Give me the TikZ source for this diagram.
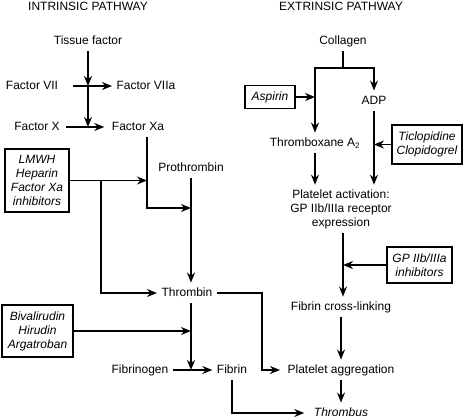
\documentclass[tikz,border=0pt]{standalone}
\usepackage{fontspec}
\setmainfont{Liberation Sans}
\usetikzlibrary{arrows.meta}

\begin{document}
\begin{tikzpicture}[x=1pt,y=-1pt,line width=1.4pt,
  lbl/.style={font=\fontsize{12}{14}\selectfont, text height=9pt, text depth=2.5pt, inner sep=4pt},
  multi/.style={font=\fontsize{12}{14}\selectfont, align=center, inner sep=4pt},
  drug/.style={draw, font=\fontsize{12}{14}\selectfont\itshape, align=center, inner sep=2pt},
  arr/.style={-{Stealth[length=10pt,width=8pt]}}]
  \useasboundingbox (0,0) rectangle (464,420);

  \node[lbl] (intr) at (88,7) {INTRINSIC PATHWAY};
  \node[lbl] (extr) at (341,7) {EXTRINSIC PATHWAY};

  \node[lbl] (tissue) at (88,41) {Tissue factor};
  \node[lbl] (f7) at (32,86) {Factor VII};
  \node[lbl] (f7a) at (146,86) {Factor VIIa};
  \node[lbl] (fx) at (37,127) {Factor X};
  \node[lbl] (fxa) at (138,127) {Factor Xa};
  \node[drug, minimum width=64pt, minimum height=63pt] (lmwh) at (37,180.5) {LMWH\\Heparin\\Factor Xa\\inhibitors};
  \node[lbl] (proth) at (191,168) {Prothrombin};
  \node[lbl] (thrombin) at (187,293) {Thrombin};
  \node[drug, minimum width=71pt, minimum height=52pt] (bival) at (37.5,331) {Bivalirudin\\Hirudin\\Argatroban};
  \node[lbl] (fibrinogen) at (140,370) {Fibrinogen};
  \node[lbl] (fibrin) at (232,370) {Fibrin};

  \node[lbl] (collagen) at (343,41) {Collagen};
  \node[drug, minimum width=50pt, minimum height=23pt] (aspirin) at (270,97) {Aspirin};
  \node[lbl] (adp) at (374,101) {ADP};
  \node[lbl] (txa) at (315,143) {Thromboxane A\textsubscript{2}};
  \node[drug, minimum width=70pt, minimum height=39pt] (ticlo) at (427,144.5) {Ticlopidine\\Clopidogrel};
  \node[multi] (platact) at (341,209) {Platelet activation:\\GP IIb/IIIa receptor\\expression};
  \node[drug, minimum width=65pt, minimum height=36pt] (gp) at (419.5,265) {GP IIb/IIIa\\inhibitors};
  \node[lbl] (fcl) at (341,307) {Fibrin cross-linking};
  \node[lbl] (platagg) at (341,370) {Platelet aggregation};
  \node[lbl, font=\fontsize{12}{14}\selectfont\itshape] (thrombus) at (341,413) {Thrombus};

  \coordinate (tj1) at (88,86);
  \coordinate (tj2) at (88,127);
  \coordinate (xj) at (147,208);
  \coordinate (pj) at (191,208);
  \coordinate (lj) at (101,181);
  \coordinate (fj) at (191,370);
  \coordinate (tp) at (262,370);
  \coordinate (cj) at (343,68);

  \draw[arr] (tissue.south) -- (tj1);
  \draw[arr] (tj1) -- (tj2);
  \draw[arr] ([xshift=10pt]f7.east) -- (f7a.west);
  \draw[arr] ([xshift=2pt]fx.east) -- ([xshift=-3pt]fxa.west);
  \draw[arr] (fxa.south -| xj) |- (pj);
  \draw[arr] (lmwh.east) -- (lmwh.east -| xj);
  \draw[arr] (lj) |- (thrombin.west);
  \draw[arr] (proth.south) -- (proth.south |- thrombin.north);
  \draw[arr] (thrombin.south -| fj) -- (fj);
  \draw[arr] (bival.east) -- (bival.east -| fj);
  \draw[arr] (fibrinogen) -- (fibrin);
  \draw[arr] (thrombin.east) -| (tp) -- ([xshift=-3pt]platagg.west);
  \draw[arr] (fibrin.south) |- ([xshift=-5pt]thrombus.west);

  \draw (collagen.south) -- (cj);
  \draw[arr] (cj) -| (adp.north);
  \draw[arr] (cj) -| (txa.north);
  \draw[arr] (aspirin.east) -- (aspirin.east -| txa);
  \draw[arr] (adp.south) -- (adp.south |- platact.north);
  \draw[arr] (txa.south) -- (txa.south |- platact.north);
  \draw[arr] (ticlo.west) -- (ticlo.west -| adp);
  \draw[arr] (platact.south -| cj) -- (fcl.north -| cj);
  \draw[arr] (gp.west) -- (gp.west -| cj);
  \draw[arr] (fcl.south) -- (platagg.north);
  \draw[arr] (platagg.south) -- (thrombus.north);
\end{tikzpicture}
\end{document}
